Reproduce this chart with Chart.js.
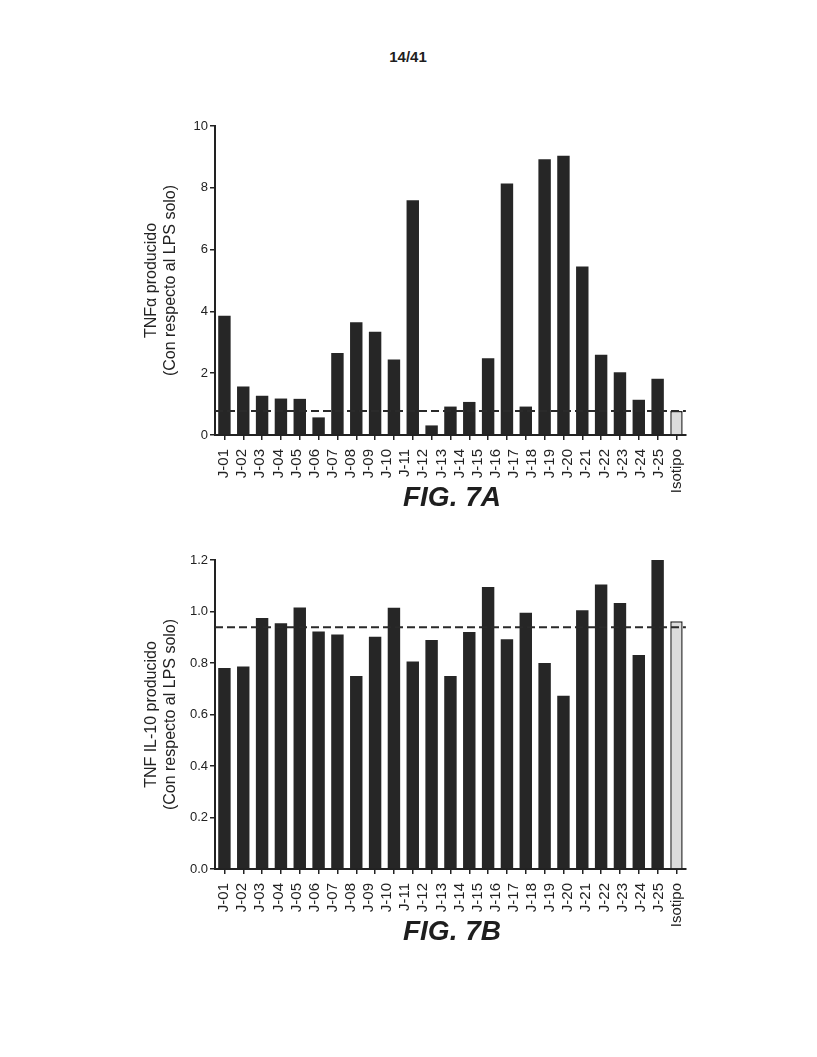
<!DOCTYPE html>
<html>
<head>
<meta charset="utf-8">
<script src="https://cdn.jsdelivr.net/npm/chart.js@4.4.0/dist/chart.umd.min.js"></script>
<style>
  body { margin: 0; background: #fff; width: 817px; height: 1057px; position: relative;
         font-family: "Liberation Sans", Arial, sans-serif; color: #1e1e1e; }
  .box { position: absolute; left: 120px; width: 575px; height: 400px; }
  #boxA { top: 100px; }
  #boxB { top: 534px; }
  .page { position: absolute; top: 49px; left: 308px; width: 200px; text-align: center;
          font-weight: bold; font-size: 15px; line-height: 15px; }
  .fig { position: absolute; left: 352px; width: 200px; text-align: center;
         font-weight: bold; font-style: italic; font-size: 28px; line-height: 28px; }
</style>
</head>
<body>
<div class="page">14/41</div>
<div class="box" id="boxA"><canvas id="chartA"></canvas></div>
<div class="fig" style="top:483px">FIG. 7A</div>
<div class="box" id="boxB"><canvas id="chartB"></canvas></div>
<div class="fig" style="top:917px">FIG. 7B</div>
<script>
// names printed under the x axis (26 of them, but the figure only has 25 bars)
var tickLabels = ['J-01','J-02','J-03','J-04','J-05','J-06','J-07','J-08','J-09','J-10',
                  'J-11','J-12','J-13','J-14','J-15','J-16','J-17','J-18','J-19','J-20',
                  'J-21','J-22','J-23','J-24','J-25','Isotipo'];

// bar heights, read left to right; the last (light) bar is Isotipo
var tnfValues = [3.86, 1.57, 1.27, 1.18, 1.17, 0.57, 2.65, 3.65, 3.34, 2.44,
                 7.60, 0.31, 0.92, 1.07, 2.48, 8.14, 0.92, 8.92, 9.04, 5.45,
                 2.60, 2.03, 1.14, 1.82, 0.78];
var il10Values = [0.781, 0.786, 0.975, 0.954, 1.016, 0.922, 0.911, 0.750, 0.902, 1.015,
                  0.806, 0.889, 0.750, 0.920, 1.095, 0.892, 0.995, 0.800, 0.673, 1.005,
                  1.105, 1.033, 0.831, 1.206, 0.962];

// dashed reference lines (isotype level)
var tnfBaseline = 0.78;
var il10Baseline = 0.939;

var barSlots = tnfValues.map((v, i) => i + 1);
var FONT = '"Liberation Sans", Arial, sans-serif';
var INK = '#222';

const baselinePlugin = {
  id: 'baseline',
  afterDatasetsDraw(chart, args, opts) {
    const y = chart.scales.y.getPixelForValue(opts.value);
    const ctx = chart.ctx;
    ctx.save();
    ctx.setLineDash([8, 4]);
    ctx.strokeStyle = '#2a2a2a';
    ctx.lineWidth = 2;
    ctx.beginPath();
    ctx.moveTo(chart.chartArea.left, y);
    ctx.lineTo(chart.chartArea.right, y);
    ctx.stroke();
    ctx.restore();
  }
};

function makeChart(canvasId, values, baseline, yMax, step, decimals, titleLines) {
  const last = values.length - 1;
  const ctx = document.getElementById(canvasId).getContext('2d');
  return new Chart(ctx, {
    type: 'bar',
    data: {
      labels: barSlots,
      datasets: [{
        data: values,
        xAxisID: 'x',
        backgroundColor: values.map((v, i) => i === last ? '#dcdcdc' : '#262626'),
        borderColor: '#262626',
        borderWidth: values.map((v, i) => i === last ? 1.5 : 0),
        barPercentage: 0.66,
        categoryPercentage: 1.0
      }]
    },
    options: {
      responsive: true,
      maintainAspectRatio: false,
      animation: false,
      layout: { padding: { top: 26, right: 7, left: 0, bottom: 0 } },
      plugins: {
        legend: { display: false },
        tooltip: { enabled: false },
        baseline: { value: baseline }
      },
      scales: {
        x: {
          type: 'category',
          offset: true,
          weight: 0,
          grid: { display: true, offset: false, drawOnChartArea: false, drawTicks: true,
                  tickLength: 5, color: INK, lineWidth: 1.5 },
          border: { display: true, color: INK, width: 2 },
          ticks: { display: false },
          afterFit: s => { s.height = 6; }
        },
        xl: {
          type: 'category',
          position: 'bottom',
          labels: tickLabels,
          offset: true,
          weight: 1,
          grid: { display: false },
          border: { display: false },
          ticks: { autoSkip: false, minRotation: 90, maxRotation: 90, padding: 0,
                   color: INK, font: { family: FONT, size: 15 } },
          afterFit: s => { s.height = 59; }
        },
        y: {
          min: 0,
          max: yMax,
          ticks: { stepSize: step, color: INK, padding: 2, font: { family: FONT, size: 13 },
                   callback: v => Number(v).toFixed(decimals) },
          grid: { drawOnChartArea: false, drawTicks: true, tickLength: 5, color: INK, lineWidth: 1.5 },
          border: { color: INK, width: 2 },
          title: { display: true, text: titleLines, color: INK,
                   font: { family: FONT, size: 16, lineHeight: 1.2 },
                   padding: { top: 22, bottom: 0 } },
          afterFit: s => { s.width = 95; }
        }
      }
    },
    plugins: [baselinePlugin]
  });
}

makeChart('chartA', tnfValues, tnfBaseline, 10, 2, 0,
          ['TNFα producido', '(Con respecto al LPS solo)']);
makeChart('chartB', il10Values, il10Baseline, 1.2, 0.2, 1,
          ['TNF IL-10 producido', '(Con respecto al LPS solo)']);
</script>
</body>
</html>
